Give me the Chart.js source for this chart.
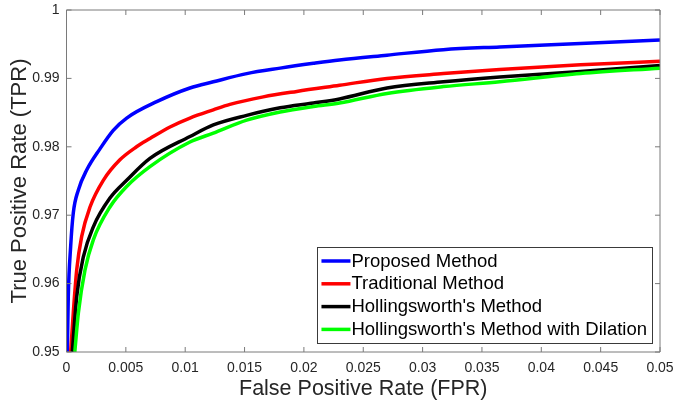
<!DOCTYPE html>
<html>
<head>
<meta charset="utf-8">
<script src="https://cdn.jsdelivr.net/npm/chart.js@4.4.0/dist/chart.umd.min.js"></script>
<style>
html,body{margin:0;padding:0;background:#fff;overflow:hidden;}
#wrap{width:673px;height:403px;position:relative;}
</style>
</head>
<body>
<div id="wrap"><canvas id="c"></canvas></div>
<script>
// ---- data ----
const seriesNames = ["Proposed Method", "Traditional Method", "Hollingsworth's Method", "Hollingsworth's Method with Dilation"];
const seriesColors = ["#0000ff", "#ff0000", "#000000", "#00ff00"];

const proposedFPR = [0.00007, 0.00015, 0.00035, 0.00057, 0.0010, 0.0017, 0.00282, 0.00394, 0.00507, 0.0076, 0.0104, 0.01237, 0.01518, 0.0180, 0.0208, 0.0230, 0.0270, 0.03175, 0.0365, 0.0433, 0.0500];
const proposedTPR = [0.9500, 0.9581, 0.9654, 0.9703, 0.9737, 0.9766, 0.9797, 0.9824, 0.9842, 0.9866, 0.9886, 0.9895, 0.9907, 0.9915, 0.9922, 0.9927, 0.9934, 0.9942, 0.9946, 0.9951, 0.9956];

const traditionalFPR = [0.00035, 0.00057, 0.00086, 0.00128, 0.00198, 0.0031, 0.0045, 0.0059, 0.00703, 0.00872, 0.0104, 0.01237, 0.01377, 0.01658, 0.0194, 0.0230, 0.0270, 0.03175, 0.0365, 0.0433, 0.0500];
const traditionalTPR = [0.9500, 0.9557, 0.9620, 0.9669, 0.9712, 0.9751, 0.9781, 0.9800, 0.9812, 0.9829, 0.9842, 0.9854, 0.9862, 0.9873, 0.9881, 0.9890, 0.9900, 0.9907, 0.9913, 0.9920, 0.9925];

const hollingsFPR = [0.00049, 0.00086, 0.00142, 0.00226, 0.00366, 0.00507, 0.00703, 0.0104, 0.01237, 0.01518, 0.0180, 0.0208, 0.0230, 0.0270, 0.03175, 0.0365, 0.0433, 0.0500];
const hollingsTPR = [0.9500, 0.9581, 0.9639, 0.9683, 0.9725, 0.9751, 0.9783, 0.9815, 0.9832, 0.9846, 0.9857, 0.9864, 0.9870, 0.9886, 0.9895, 0.9902, 0.9910, 0.9919];

const dilationFPR = [0.0007, 0.0010, 0.00156, 0.00226, 0.00366, 0.00507, 0.00703, 0.0104, 0.01237, 0.01518, 0.0180, 0.0208, 0.0230, 0.0270, 0.03175, 0.0365, 0.0433, 0.0500];
const dilationTPR = [0.9500, 0.9557, 0.9620, 0.9664, 0.9712, 0.9742, 0.9771, 0.9807, 0.9820, 0.9839, 0.9851, 0.9859, 0.9864, 0.9878, 0.9888, 0.9895, 0.9907, 0.9915];

const xTickValues = [0, 0.005, 0.01, 0.015, 0.02, 0.025, 0.03, 0.035, 0.04, 0.045, 0.05];
const xTickLabels = ["0", "0.005", "0.01", "0.015", "0.02", "0.025", "0.03", "0.035", "0.04", "0.045", "0.05"];
const yTickValues = [0.95, 0.96, 0.97, 0.98, 0.99, 1];
const yTickLabels = ["0.95", "0.96", "0.97", "0.98", "0.99", "1"];

const xTitle = "False Positive Rate (FPR)";
const yTitle = "True Positive Rate (TPR)";

// ---- build chart ----
function pts(xs, ys) { return xs.map((x, i) => ({ x: x, y: ys[i] })); }
const allX = [proposedFPR, traditionalFPR, hollingsFPR, dilationFPR];
const allY = [proposedTPR, traditionalTPR, hollingsTPR, dilationTPR];

const FONT = "'Liberation Sans', Arial, sans-serif";
const AXIS_COLOR = "#7a7a7a";
const TEXT_COLOR = "#262626";

const datasets = seriesNames.map((name, i) => ({
  label: name,
  data: pts(allX[i], allY[i]),
  borderColor: seriesColors[i],
  backgroundColor: seriesColors[i],
  borderWidth: 3.5,
  pointRadius: 0,
  fill: false,
  cubicInterpolationMode: 'monotone',
  order: seriesNames.length - 1 - i
}));

const framePlugin = {
  id: 'matlabFrame',
  afterDatasetsDraw(chart) {
    const { ctx, chartArea, scales } = chart;
    const { left, right, top, bottom } = chartArea;
    const x = scales.x, y = scales.y;
    ctx.save();
    ctx.strokeStyle = AXIS_COLOR;
    ctx.lineWidth = 1;
    ctx.beginPath();
    ctx.rect(left, top, right - left, bottom - top);
    const tl = 5;
    x.ticks.forEach(t => {
      const px = x.getPixelForValue(t.value);
      ctx.moveTo(px, bottom); ctx.lineTo(px, bottom - tl);
      ctx.moveTo(px, top); ctx.lineTo(px, top + tl);
    });
    y.ticks.forEach(t => {
      const py = y.getPixelForValue(t.value);
      ctx.moveTo(left, py); ctx.lineTo(left + tl, py);
      ctx.moveTo(right, py); ctx.lineTo(right - tl, py);
    });
    ctx.stroke();
    ctx.restore();
  },
  afterDraw(chart) {
    const { ctx, chartArea } = chart;
    const ds = chart.data.datasets;
    ctx.save();
    ctx.font = "18.5px " + FONT;
    let maxW = 0;
    ds.forEach(d => { maxW = Math.max(maxW, ctx.measureText(d.label).width); });
    const padL = 4, lineLen = 29, gap = 1, padR = 5;
    const rowH = 22.8;
    const boxW = padL + lineLen + gap + maxW + padR;
    const boxH = 95.5;
    const bx = chartArea.right - 8 - boxW;
    const by = chartArea.bottom - 10 - boxH;
    ctx.fillStyle = "#ffffff";
    ctx.fillRect(bx, by, boxW, boxH);
    ctx.strokeStyle = "#3a3a3a";
    ctx.lineWidth = 1;
    ctx.strokeRect(Math.round(bx) + 0.5, Math.round(by) + 0.5, Math.round(boxW), Math.round(boxH));
    ctx.textBaseline = "middle";
    ctx.textAlign = "left";
    ds.forEach((d, i) => {
      const ry = by + 14.5 + i * rowH;
      ctx.strokeStyle = d.borderColor;
      ctx.lineWidth = 3.5;
      ctx.beginPath();
      ctx.moveTo(bx + padL, ry);
      ctx.lineTo(bx + padL + lineLen, ry);
      ctx.stroke();
      ctx.fillStyle = "#000000";
      ctx.fillText(d.label, bx + padL + lineLen + gap, ry + 0.5);
    });
    ctx.restore();
  }
};

new Chart(document.getElementById('c'), {
  type: 'line',
  data: { datasets: datasets },
  plugins: [framePlugin],
  options: {
    responsive: true,
    maintainAspectRatio: false,
    devicePixelRatio: 1,
    animation: false,
    layout: { padding: { top: 10, right: 13, left: 0, bottom: 0 } },
    plugins: { legend: { display: false }, tooltip: { enabled: false } },
    scales: {
      x: {
        type: 'linear',
        min: 0, max: 0.05,
        afterBuildTicks: (s) => { s.ticks = xTickValues.map(v => ({ value: v })); },
        afterFit: (s) => { s.height = 51; s.paddingLeft = 0; s.paddingRight = 0; },
        grid: { display: false, drawTicks: false },
        border: { display: false },
        ticks: {
          autoSkip: false, maxRotation: 0, minRotation: 0,
          padding: 7.6,
          color: TEXT_COLOR,
          font: { family: FONT, size: 14 },
          callback: (v, i) => xTickLabels[i]
        },
        title: {
          display: true, text: xTitle, color: TEXT_COLOR,
          font: { family: FONT, size: 21.5 },
          padding: { top: 0, bottom: 1.5 }
        }
      },
      y: {
        type: 'linear',
        min: 0.95, max: 1,
        afterBuildTicks: (s) => { s.ticks = yTickValues.map(v => ({ value: v })); },
        afterFit: (s) => { s.width = 66.5; s.paddingTop = 0; s.paddingBottom = 0; },
        grid: { display: false, drawTicks: false },
        border: { display: false },
        ticks: {
          autoSkip: false,
          padding: 7,
          color: TEXT_COLOR,
          font: { family: FONT, size: 14 },
          callback: (v, i) => yTickLabels[i]
        },
        title: {
          display: true, text: yTitle, color: TEXT_COLOR,
          font: { family: FONT, size: 22 },
          padding: { top: 7, bottom: 0 }
        }
      }
    }
  }
});
</script>
</body>
</html>
